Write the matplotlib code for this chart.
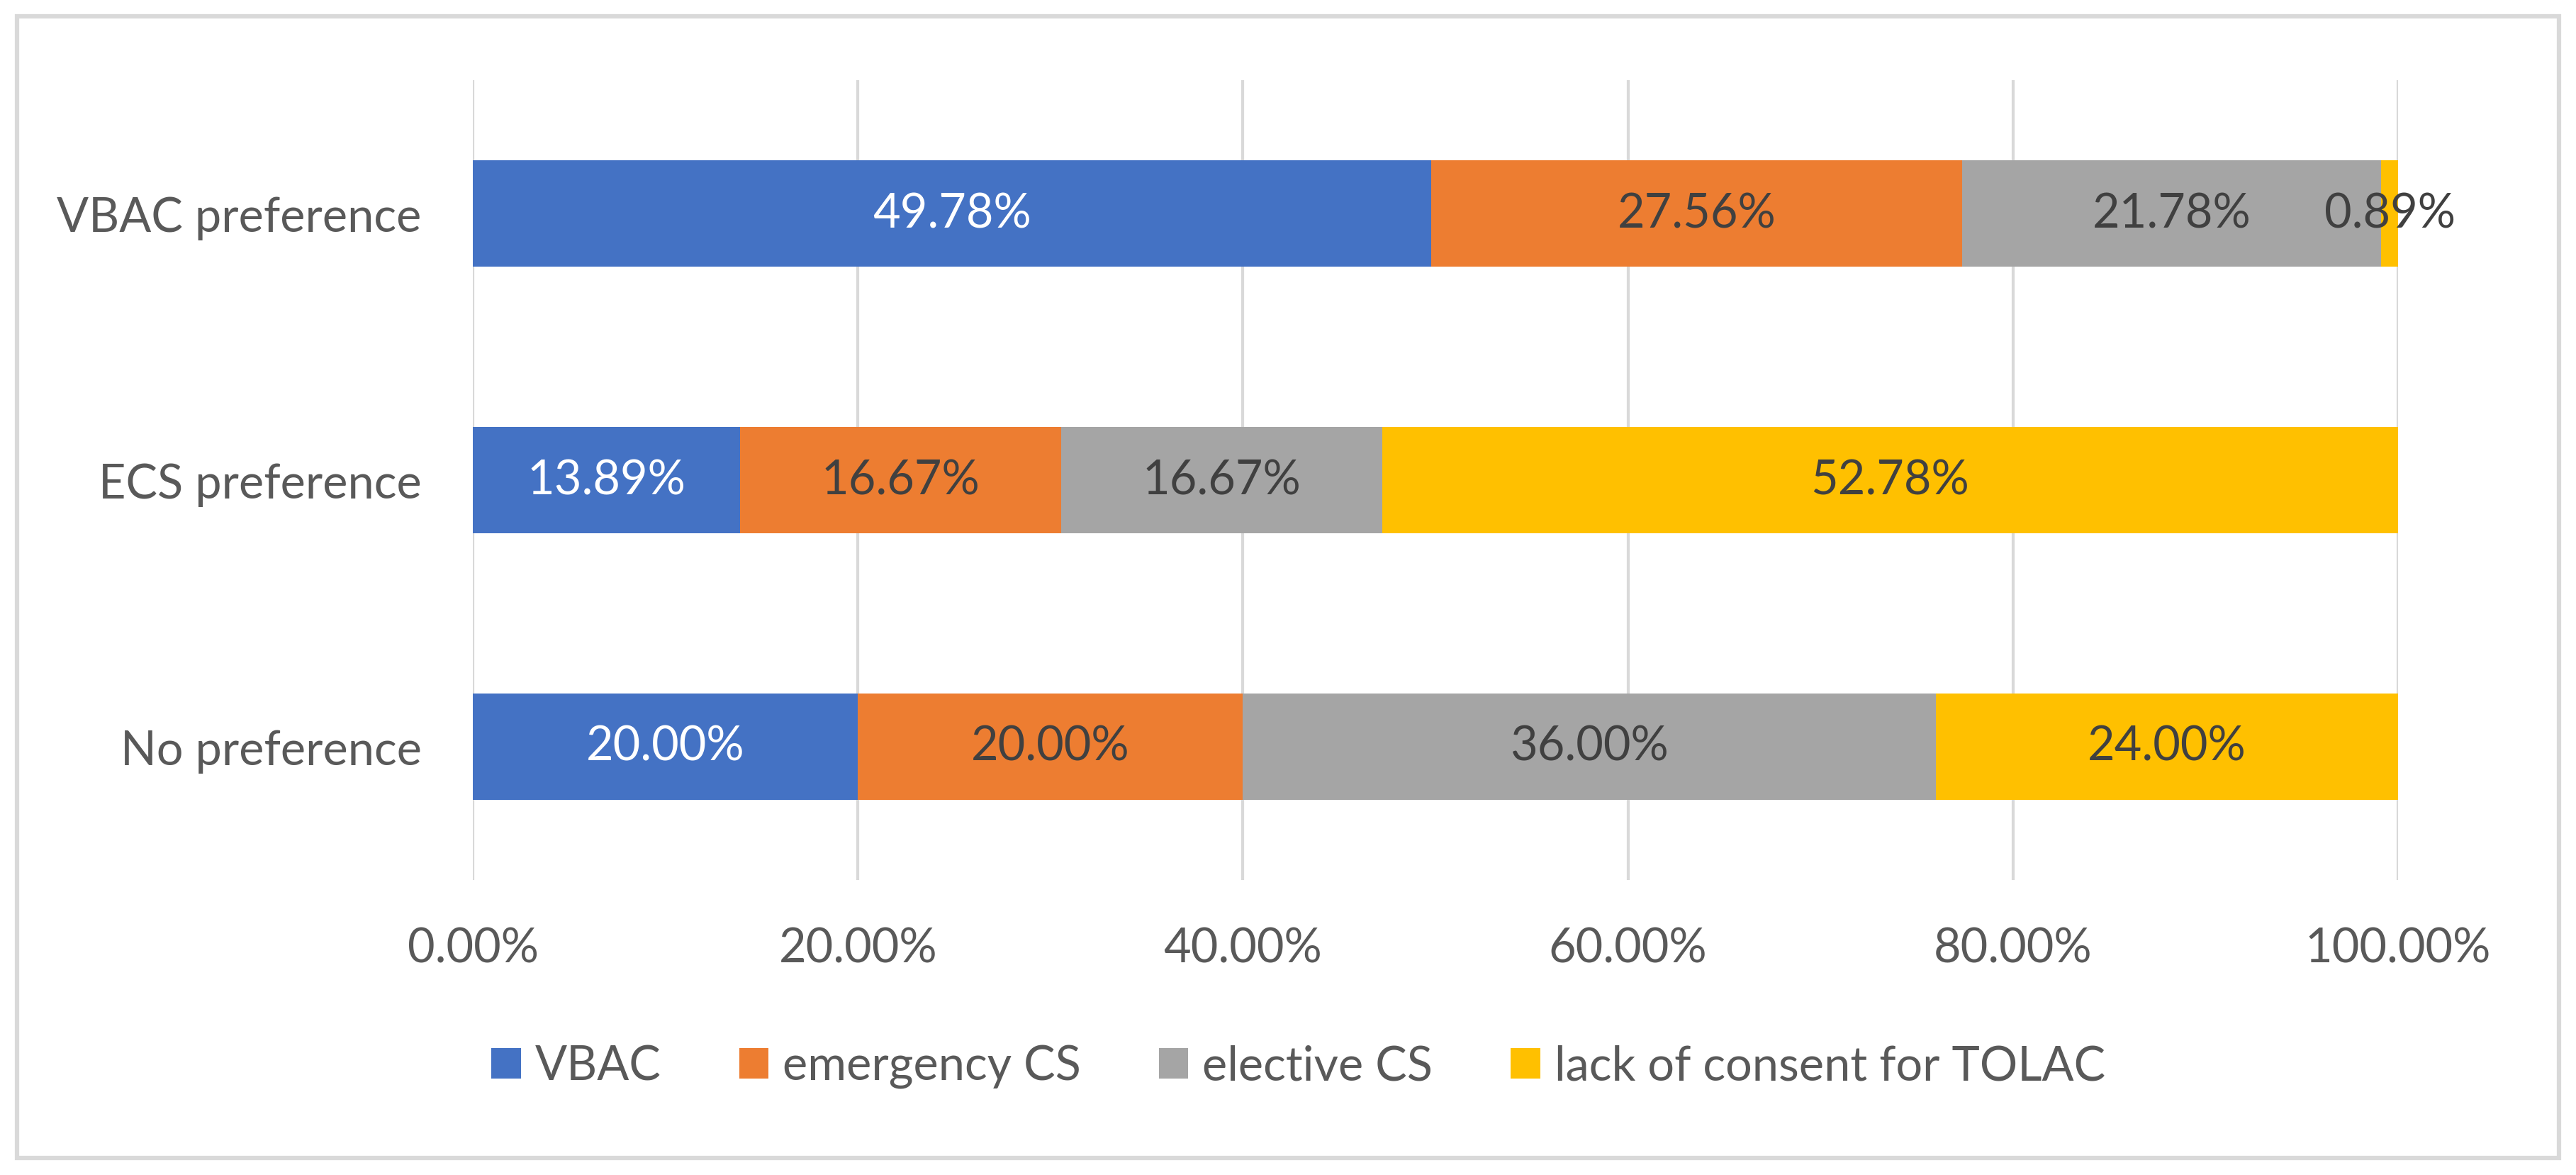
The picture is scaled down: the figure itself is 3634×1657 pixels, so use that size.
import numpy as np
import matplotlib.pyplot as plt
from matplotlib.patches import Rectangle

# data (percent), categories listed bottom to top
groups = ["No preference", "ECS preference", "VBAC preference"]
series_names = ["VBAC", "emergency CS", "elective CS", "lack of consent for TOLAC"]
vbac = [20.00, 13.89, 49.78]
emergency_cs = [20.00, 16.67, 27.56]
elective_cs = [36.00, 16.67, 21.78]
no_consent = [24.00, 52.78, 0.89]
ticks = [0, 20, 40, 60, 80, 100]

colors = ["#4472C4", "#ED7D31", "#A5A5A5", "#FFC000"]
label_colors = ["white", "#404040", "#404040", "#404040"]

plt.rcParams["font.family"] = ["Lato", "DejaVu Sans"]
W, H = 3634, 1658
fs = 48
fig = plt.figure(figsize=(W / 100, H / 100), dpi=100)
ax = fig.add_axes([667 / W, 1 - 1242 / H, (3383 - 667) / W, (1242 - 114) / H])

y = np.arange(len(groups))
left = np.zeros(len(groups))
for vals, name, c, lc in zip([vbac, emergency_cs, elective_cs, no_consent],
                             series_names, colors, label_colors):
    bars = ax.barh(y, vals, left=left, height=0.4, color=c, label=name, zorder=2)
    ax.bar_label(bars, labels=[f"{v:.2f}%" for v in vals], label_type="center",
                 color=lc, fontsize=fs)
    left += np.array(vals)

ax.set_xlim(0, 100)
ax.set_ylim(-0.5, len(groups) - 0.5)
ax.set_xticks(ticks)
ax.set_xticklabels([f"{t:.2f}%" for t in ticks])
ax.set_yticks(y)
ax.set_yticklabels(groups)
ax.tick_params(axis="both", length=0, labelsize=fs, colors="#595959")
ax.tick_params(axis="x", pad=47)
ax.tick_params(axis="y", pad=52)
ax.grid(axis="x", color="#D9D9D9", linewidth=3, zorder=0)
ax.set_axisbelow(True)
for s in ax.spines.values():
    s.set_visible(False)

fig.legend(loc="center", bbox_to_anchor=(0.504, 1 - 1505 / H), ncol=4, frameon=False,
           fontsize=fs, labelcolor="#595959", handlelength=0.62, handleheight=0.62,
           handletextpad=0.3, columnspacing=1.65)

# outer chart border
fig.patches.append(Rectangle((24 / W, 24 / H), 1 - 48 / W, 1 - 48 / H,
                             transform=fig.transFigure, fill=False,
                             edgecolor="#D9D9D9", linewidth=4.5))

fig.savefig("out.png", dpi=100, facecolor="white")
